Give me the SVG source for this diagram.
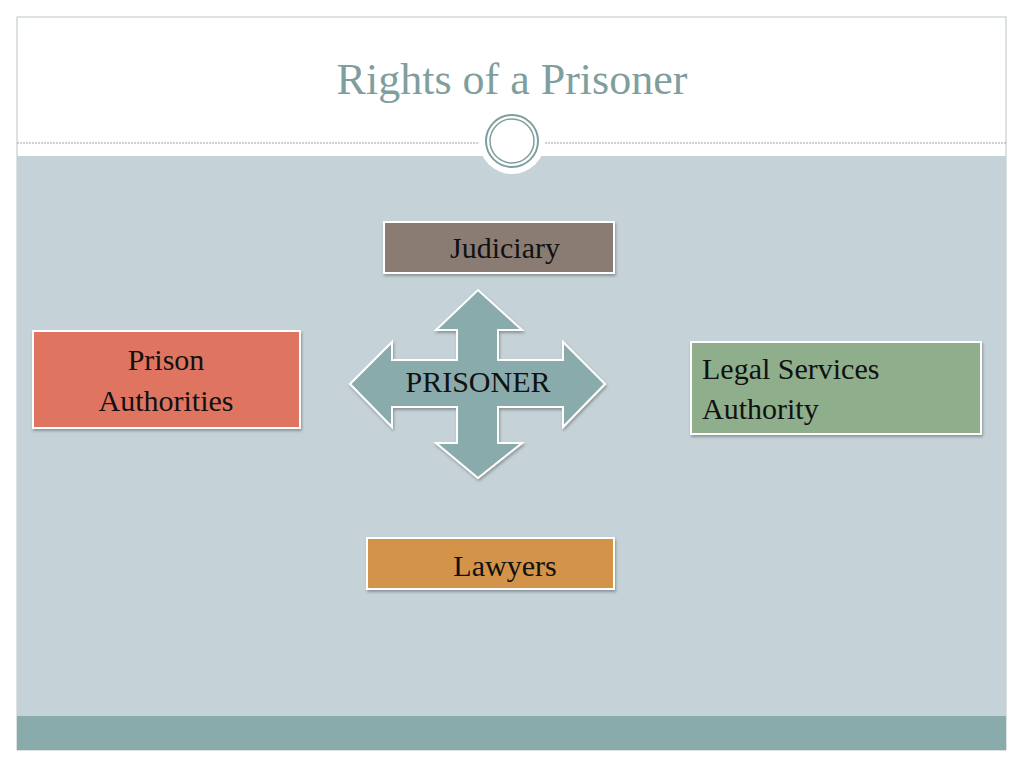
<svg xmlns="http://www.w3.org/2000/svg" width="1024" height="768" viewBox="0 0 1024 768">
<style>
.t{font-family:"Liberation Serif","DejaVu Serif",serif;fill:#111;font-size:30px}
.box{stroke:#fff;stroke-width:2}
</style>
<defs><filter id="sh" x="-10%" y="-10%" width="130%" height="140%"><feDropShadow dx="1" dy="2" stdDeviation="1.5" flood-color="#000" flood-opacity="0.3"/></filter></defs>
<rect width="1024" height="768" fill="#fff"/>
<rect x="17" y="17" width="989" height="733" fill="#fff" stroke="#b9c3c3" stroke-width="1"/>
<rect x="17" y="156" width="989" height="560" fill="#c5d3d8"/>
<rect x="17" y="716" width="989" height="34" fill="#8aabab"/>
<line x1="17" y1="143" x2="1006" y2="143" stroke="#9aa5a5" stroke-width="1" stroke-dasharray="2,1"/>
<circle cx="512" cy="141" r="33" fill="#fff"/>
<circle cx="512" cy="141" r="26" fill="#fff" stroke="#7f9e9e" stroke-width="2"/>
<circle cx="512" cy="141" r="22" fill="none" stroke="#7f9e9e" stroke-width="1.5"/>
<text x="512" y="94" text-anchor="middle" style="font-family:'Liberation Serif',serif;font-size:44px;fill:#7f9e9e">Rights of a Prisoner</text>
<g id="connectors">
<g id="prisoner">
<path d="M478,290 L522,330 L498,330 L498,360 L563,360 L563,342 L605,384 L563,427 L563,407 L498,407 L498,443 L522,443 L478,478 L436,443 L457,443 L457,407 L392,407 L392,427 L350,384 L392,342 L392,360 L457,360 L457,330 L436,330 Z" fill="#8aabab" stroke="#fff" stroke-width="2" filter="url(#sh)"/>
<text class="t" x="478" y="392" text-anchor="middle">PRISONER</text>
</g>
</g>
<g id="judiciary"><rect class="box" x="384" y="222" width="230" height="51" fill="#8b7b73" filter="url(#sh)"/><text class="t" x="505" y="258" text-anchor="middle">Judiciary</text></g>
<g id="prison"><rect class="box" x="33" y="331" width="267" height="97" fill="#df7560" filter="url(#sh)"/><text class="t" x="166" y="370" text-anchor="middle">Prison</text><text class="t" x="166" y="411" text-anchor="middle">Authorities</text></g>
<g id="legal"><rect class="box" x="691" y="342" width="290" height="92" fill="#8fae8b" filter="url(#sh)"/><text class="t" x="702" y="379">Legal Services</text><text class="t" x="702" y="419">Authority</text></g>
<g id="lawyers"><rect class="box" x="367" y="538" width="247" height="51" fill="#d39348" filter="url(#sh)"/><text class="t" x="505" y="576" text-anchor="middle">Lawyers</text></g>
</svg>
